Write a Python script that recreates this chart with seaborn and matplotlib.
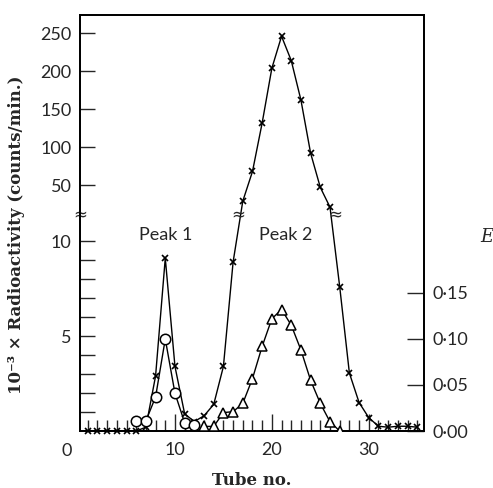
import numpy as np
import pandas as pd
import matplotlib
matplotlib.use("Agg")
import matplotlib.pyplot as plt
import matplotlib.transforms as mtransforms
import seaborn as sns

# Radioactivity (10^-3 x counts/min.), crosses
tubes_cpm = list(range(1, 36))
cpm = [0, 0, 0, 0, 0, 0, 0.2,
       2.9, 9.1, 3.4, 0.9, 0.5, 0.8, 1.4, 3.4, 8.9,
       29, 68, 132, 204, 246, 214, 162, 92, 47, 21,
       7.6, 3.05, 1.5, 0.7, 0.25, 0.2, 0.25, 0.25, 0.2]

# E, peak 1 (circles)
tubes_p1 = [6, 7, 8, 9, 10, 11, 12]
e_p1 = [0.011, 0.011, 0.037, 0.100, 0.041, 0.009, 0.0065]

# E, peak 2 (triangles)
tubes_p2 = list(range(13, 28))
e_p2 = [0.005, 0.005, 0.020, 0.021, 0.030, 0.057, 0.092, 0.122, 0.132,
        0.115, 0.088, 0.055, 0.030, 0.010, 0.0]

left_major = [5, 10, 50, 100, 150, 200, 250]
left_minor = [1, 2, 3, 4, 6, 7, 8, 9]
right_ticks = [0.0, 0.05, 0.10, 0.15]
right_labels = ["0·00", "0·05", "0·10", "0·15"]

# broken left axis: steep linear part below the break, compressed part above
LO, HI, OFF = 19.0, 0.76, 208.0
Y_BREAK = OFF / (LO - HI)


def fwd(y):
    y = np.asarray(y, dtype=float)
    return np.where(y <= Y_BREAK, y * LO, OFF + y * HI)


def inv(f):
    f = np.asarray(f, dtype=float)
    return np.where(f <= Y_BREAK * LO, f / LO, (f - OFF) / HI)


sns.set_style("ticks")
plt.rcParams["font.family"] = ["Lato", "DejaVu Sans"]

df_cpm = pd.DataFrame({"tube": tubes_cpm, "cpm": cpm})
df_p1 = pd.DataFrame({"tube": tubes_p1, "E": e_p1})
df_p2 = pd.DataFrame({"tube": tubes_p2, "E": e_p2})

fig = plt.figure(figsize=(4.93, 4.88), dpi=100)
ax = fig.add_axes([80 / 493, 1 - 431 / 488, 344 / 493, 416 / 488])
ax.set_yscale("function", functions=(fwd, inv))

sns.lineplot(data=df_cpm, x="tube", y="cpm", ax=ax, color="black", lw=1.0,
             marker="x", markersize=4, markeredgewidth=1.2,
             markeredgecolor="black", clip_on=False, zorder=3)

ax.set_xlim(0.2, 35.7)
ax.set_ylim(0, 274)

ax2 = ax.twinx()
sns.lineplot(data=df_p1, x="tube", y="E", ax=ax2, color="black", lw=1.0,
             marker="o", markersize=7.5, markerfacecolor="white",
             markeredgecolor="black", markeredgewidth=1.1, zorder=3)
sns.lineplot(data=df_p2, x="tube", y="E", ax=ax2, color="black", lw=1.0,
             marker="^", markersize=7.5, markerfacecolor="white",
             markeredgecolor="black", markeredgewidth=1.1, zorder=3)
ax2.set_ylim(0, 0.452)
ax2.set_xlim(0.2, 35.7)

# ticks
ax.set_xticks([10, 20, 30])
ax.set_xticklabels(["10", "20", "30"])
ax.set_xticks(range(1, 36), minor=True)
ax.set_yticks(left_major)
ax.set_yticklabels([str(v) for v in left_major])
ax.set_yticks(left_minor, minor=True)
ax.tick_params(axis="x", which="major", direction="in", length=12, width=1,
               labelsize=13, pad=8)
ax.tick_params(axis="x", which="minor", direction="in", length=8, width=1)
ax.tick_params(axis="y", which="both", direction="in", length=11, width=1,
               labelsize=13, pad=6)

ax2.set_yticks(right_ticks)
ax2.set_yticklabels(right_labels)
ax2.set_yticks([], minor=True)
ax2.tick_params(axis="y", direction="in", length=12, width=1, labelsize=13, pad=6)
ax2.set_ylabel("")
ax2.set_xlabel("")

for a in (ax, ax2):
    for s in a.spines.values():
        s.set_linewidth(1.3)
        s.set_color("black")

# the "0" at the corner
trans = mtransforms.blended_transform_factory(ax.transData, ax.transAxes)
ax.text(-1.2, -0.047, "0", transform=trans, ha="center", va="center",
        fontsize=13, clip_on=False)

# break marks on the axis and on the curve
for bx in [0.2, 16.5, 26.5]:
    ax.text(bx, Y_BREAK, "≈", ha="center", va="center", fontsize=12,
            family="DejaVu Sans", zorder=5, clip_on=False)

ax.text(9.0, 10.3, "Peak 1", ha="center", va="center", fontsize=13)
ax.text(21.4, 10.3, "Peak 2", ha="center", va="center", fontsize=13)

ax.set_xlabel("Tube no.", family="DejaVu Serif", fontweight="bold",
              fontsize=12, labelpad=10)
ax.set_ylabel("10⁻³ × Radioactivity (counts/min.)", family="DejaVu Serif",
              fontweight="bold", fontsize=12)
ax.yaxis.set_label_coords(-0.16, 0.471)
fig.text(487 / 493, 1 - 237 / 488, "E", family="DejaVu Serif",
         style="italic", fontsize=13, ha="center", va="center")

fig.savefig("out.png", dpi=100)
